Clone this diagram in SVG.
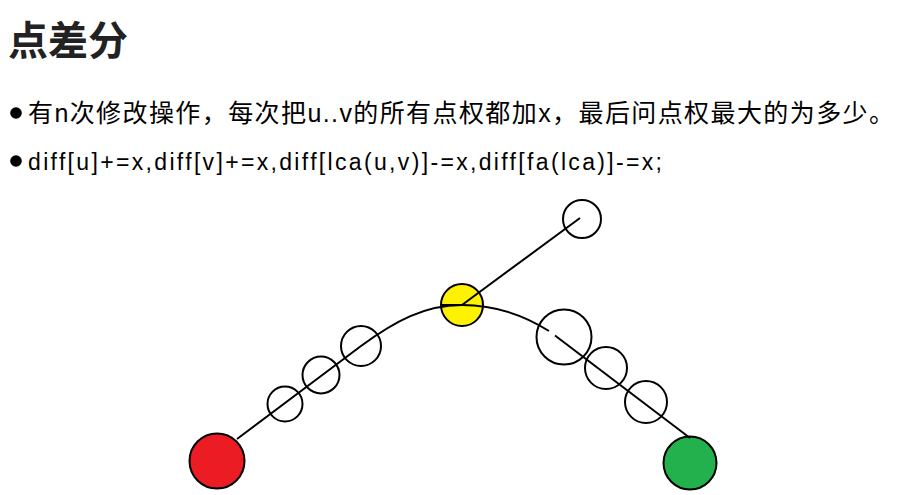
<svg xmlns="http://www.w3.org/2000/svg" width="918" height="495" viewBox="0 0 918 495">
<style>
.title{font-family:"Liberation Sans","Noto Sans CJK SC",sans-serif;font-weight:bold;font-size:40px;fill:#222}
.body{font-family:"Liberation Sans","Noto Sans CJK SC",sans-serif;fill:#000}
.node{stroke:#000;stroke-width:2}
.edge{fill:none;stroke:#000;stroke-width:2}
</style>
<rect width="918" height="495" fill="#fff"/>
<text class="title" x="8" y="55">点差分</text>
<circle cx="16" cy="113" r="5.8" fill="#000"/>
<text class="body" x="28" y="122" font-size="25" textLength="866" lengthAdjust="spacing">有n次修改操作，每次把u..v的所有点权都加x，最后问点权最大的为多少。</text>
<circle cx="16" cy="161" r="5.8" fill="#000"/>
<text class="body" x="28" y="170" font-size="23" textLength="634" lengthAdjust="spacing">diff[u]+=x,diff[v]+=x,diff[lca(u,v)]-=x,diff[fa(lca)]-=x;</text>
<g id="u"><circle class="node" cx="217" cy="461" r="27.5" fill="#ec1c24"/></g>
<g id="a1"><circle class="node" cx="285" cy="404" r="17.5" fill="none"/></g>
<g id="a2"><circle class="node" cx="321" cy="375" r="18.5" fill="none"/></g>
<g id="a3"><circle class="node" cx="361" cy="346" r="20" fill="none"/></g>
<g id="lca"><circle class="node" cx="462" cy="305" r="21" fill="#fff200"/></g>
<g id="fa"><circle class="node" cx="582" cy="219" r="19" fill="none"/></g>
<g id="b1"><circle class="node" cx="564" cy="337" r="27.5" fill="none"/></g>
<g id="b2"><circle class="node" cx="606" cy="368" r="21" fill="none"/></g>
<g id="b3"><circle class="node" cx="646" cy="402" r="21" fill="none"/></g>
<g id="v"><circle class="node" cx="690" cy="463" r="26.5" fill="#22b14c"/></g>
<g id="connectors">
<path class="edge" d="M237,439 L361,346 C395,321 425,305 462,305"/>
<path class="edge" d="M441,305 C445,305 455,305 462,305"/>
<path class="edge" d="M462,305 L580,218"/>
<path class="edge" d="M462,305 C495,305 522,314 549,331"/>
<path class="edge" d="M555,335.5 L690,438"/>
</g>
</svg>
